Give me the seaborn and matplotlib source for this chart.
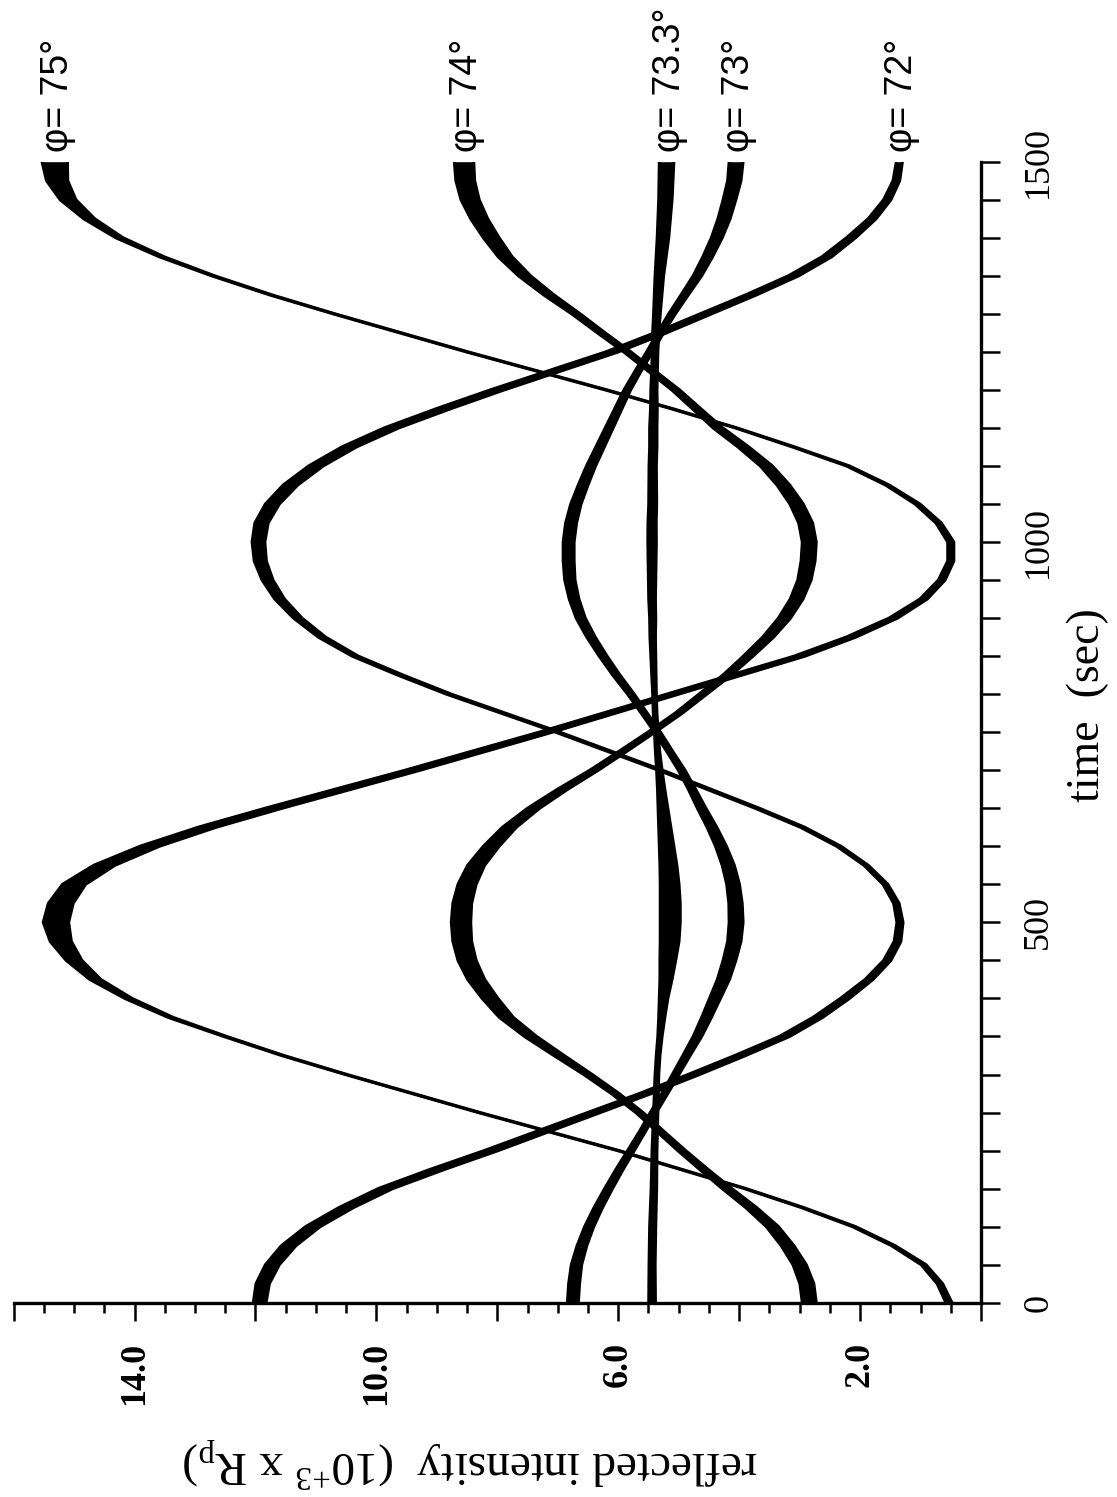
import matplotlib
matplotlib.use("Agg")
import numpy as np
import matplotlib.pyplot as plt
import seaborn as sns
from matplotlib.ticker import MultipleLocator

# Sampling times (s)
time_s = [0, 25, 50, 75, 100, 125, 150, 175, 200, 225, 250, 275, 300, 325, 350,
          375, 400, 425, 450, 475, 500, 525, 550, 575, 600, 625, 650, 675, 700,
          725, 750, 775, 800, 825, 850, 875, 900, 925, 950, 975, 1000, 1025,
          1050, 1075, 1100, 1125, 1150, 1175, 1200, 1225, 1250, 1275, 1300,
          1325, 1350, 1375, 1400, 1425, 1450, 1475, 1500]

# Reflected intensity (10^3 x Rp): centre of each trace and width of its band
phi75_mid = [0.53, 0.68, 0.95, 1.45, 2.1, 2.95, 3.9, 4.95, 6.0, 7.15, 8.3, 9.4,
             10.5, 11.55, 12.5, 13.4, 14.1, 14.65, 15.0, 15.22, 15.3,
             15.22, 15.0, 14.5, 13.75, 12.8, 11.7, 10.55, 9.4, 8.3, 7.2, 6.15,
             5.1, 4.05, 3.0, 2.15, 1.45, 0.95, 0.65, 0.5, 0.5,
             0.7, 1.05, 1.55, 2.2, 3.1, 4.05, 5.1, 6.2, 7.35, 8.5, 9.6, 10.7,
             11.75, 12.7, 13.55, 14.25, 14.75, 15.1, 15.28, 15.32]
phi75_band = [0.10, 0.09, 0.08, 0.06, 0.05, 0.04, 0.03, 0.03, 0.03, 0.03, 0.03,
              0.03, 0.03, 0.04, 0.05, 0.08, 0.12, 0.18, 0.26, 0.35, 0.42,
              0.41, 0.38, 0.35, 0.32, 0.30, 0.28, 0.27, 0.25, 0.24, 0.22, 0.21,
              0.20, 0.19, 0.18, 0.16, 0.14, 0.12, 0.11, 0.10, 0.10,
              0.09, 0.08, 0.06, 0.05, 0.04, 0.03, 0.03, 0.03, 0.03, 0.03, 0.03,
              0.03, 0.04, 0.05, 0.08, 0.12, 0.18, 0.26, 0.35, 0.42]

phi74_mid = [2.84, 2.88, 3.0, 3.2, 3.45, 3.8, 4.2, 4.58, 4.95, 5.3, 5.65, 6.05,
             6.5, 6.98, 7.45, 7.85, 8.12, 8.35, 8.5, 8.58, 8.6,
             8.58, 8.5, 8.35, 8.1, 7.8, 7.4, 6.92, 6.4, 5.92, 5.45, 5.0, 4.6,
             4.2, 3.85, 3.52, 3.25, 3.05, 2.92, 2.86, 2.84,
             2.9, 3.05, 3.27, 3.55, 3.93, 4.35, 4.7, 5.05, 5.45, 5.85, 6.28,
             6.7, 7.15, 7.55, 7.87, 8.1, 8.3, 8.45, 8.53, 8.55]
phi74_band = [0.23, 0.23, 0.22, 0.21, 0.20, 0.18, 0.16, 0.14, 0.13, 0.12, 0.12,
              0.13, 0.14, 0.17, 0.20, 0.23, 0.26, 0.28, 0.30, 0.31, 0.32,
              0.31, 0.30, 0.28, 0.26, 0.23, 0.20, 0.17, 0.14, 0.13, 0.12, 0.12,
              0.13, 0.14, 0.16, 0.18, 0.20, 0.21, 0.22, 0.23, 0.23,
              0.23, 0.22, 0.21, 0.20, 0.18, 0.16, 0.14, 0.13, 0.12, 0.12, 0.13,
              0.14, 0.17, 0.20, 0.23, 0.26, 0.28, 0.30, 0.31, 0.32]

phi733_mid = [5.44, 5.44, 5.44, 5.435, 5.43, 5.42, 5.41, 5.405, 5.40, 5.39,
              5.38, 5.37, 5.36, 5.34, 5.31, 5.28, 5.25, 5.21, 5.18, 5.15, 5.14,
              5.14, 5.15, 5.17, 5.20, 5.23, 5.26, 5.29, 5.32, 5.35, 5.37, 5.39,
              5.40, 5.41, 5.42, 5.43, 5.43, 5.44, 5.44, 5.44, 5.44,
              5.44, 5.43, 5.43, 5.43, 5.42, 5.42, 5.41, 5.41, 5.40, 5.39, 5.38,
              5.36, 5.34, 5.32, 5.29, 5.26, 5.24, 5.22, 5.21, 5.20]
phi733_band = [0.11, 0.105, 0.10, 0.10, 0.10, 0.095, 0.09, 0.085, 0.08, 0.075,
               0.07, 0.065, 0.06, 0.06, 0.07, 0.10, 0.14, 0.20, 0.26, 0.31, 0.33,
               0.33, 0.31, 0.28, 0.24, 0.20, 0.16, 0.12, 0.09, 0.07, 0.06, 0.06,
               0.06, 0.07, 0.08, 0.09, 0.10, 0.11, 0.12, 0.13, 0.14,
               0.135, 0.13, 0.125, 0.12, 0.12, 0.12, 0.11, 0.10, 0.095, 0.09,
               0.10, 0.11, 0.125, 0.14, 0.165, 0.19, 0.205, 0.22, 0.23, 0.24]

phi73_mid = [6.75, 6.73, 6.69, 6.6, 6.48, 6.33, 6.16, 5.98, 5.79, 5.6, 5.42,
             5.23, 5.05, 4.87, 4.69, 4.54, 4.4, 4.26, 4.16, 4.08, 4.05,
             4.06, 4.1, 4.18, 4.3, 4.45, 4.62, 4.78, 4.95, 5.15, 5.35, 5.57,
             5.79, 6.03, 6.25, 6.45, 6.62, 6.73, 6.8, 6.82, 6.82,
             6.78, 6.7, 6.58, 6.45, 6.3, 6.15, 6.0, 5.85, 5.67, 5.48, 5.3,
             5.11, 4.9, 4.69, 4.52, 4.37, 4.25, 4.16, 4.08, 4.05]
phi73_band = [0.18, 0.18, 0.17, 0.16, 0.15, 0.14, 0.13, 0.12, 0.11, 0.10, 0.10,
              0.10, 0.11, 0.12, 0.14, 0.16, 0.18, 0.20, 0.21, 0.22, 0.23,
              0.22, 0.21, 0.20, 0.18, 0.16, 0.14, 0.12, 0.11, 0.10, 0.10, 0.10,
              0.11, 0.12, 0.13, 0.14, 0.15, 0.16, 0.17, 0.18, 0.18,
              0.18, 0.17, 0.16, 0.15, 0.14, 0.13, 0.12, 0.11, 0.10, 0.10, 0.10,
              0.11, 0.12, 0.14, 0.16, 0.18, 0.20, 0.21, 0.22, 0.23]

phi72_mid = [11.93, 11.88, 11.72, 11.45, 11.05, 10.5, 9.85, 9.0, 8.1, 7.25, 6.4,
             5.55, 4.75, 3.98, 3.25, 2.7, 2.25, 1.85, 1.55, 1.38, 1.34,
             1.4, 1.58, 1.9, 2.35, 2.95, 3.7, 4.5, 5.3, 6.15, 7.0, 7.9, 8.8,
             9.6, 10.35, 10.9, 11.3, 11.6, 11.8, 11.92, 11.95,
             11.9, 11.72, 11.42, 11.0, 10.45, 9.75, 8.9, 8.0, 7.05, 6.1, 5.3,
             4.55, 3.8, 3.1, 2.55, 2.15, 1.8, 1.55, 1.4, 1.35]
phi72_band = [0.21, 0.22, 0.23, 0.24, 0.24, 0.24, 0.24, 0.24, 0.23, 0.22, 0.21,
              0.20, 0.19, 0.18, 0.17, 0.16, 0.15, 0.13, 0.12, 0.11, 0.10,
              0.09, 0.08, 0.07, 0.07, 0.07, 0.07, 0.07, 0.07, 0.07, 0.07, 0.07,
              0.08, 0.09, 0.10, 0.12, 0.14, 0.16, 0.18, 0.20, 0.21,
              0.22, 0.23, 0.24, 0.24, 0.24, 0.24, 0.24, 0.23, 0.22, 0.21, 0.20,
              0.19, 0.18, 0.17, 0.16, 0.15, 0.13, 0.12, 0.11, 0.10]

curve_labels = ["\u03c6= 75\u00b0", "\u03c6= 74\u00b0", "\u03c6= 73.3\u00b0",
                "\u03c6= 73\u00b0", "\u03c6= 72\u00b0"]
curves = [(phi75_mid, phi75_band), (phi74_mid, phi74_band),
          (phi733_mid, phi733_band), (phi73_mid, phi73_band),
          (phi72_mid, phi72_band)]

intensity_ticks = [0, 2, 4, 6, 8, 10, 12, 14, 16]
intensity_labels = ["", "2.0", "", "6.0", "", "10.0", "", "14.0", ""]
time_ticks = [0, 500, 1000, 1500]
time_labels = ["0", "500", "1000", "1500"]

sns.set_theme(style="ticks", rc={
    "axes.edgecolor": "black", "xtick.color": "black", "ytick.color": "black",
    "text.color": "black", "axes.labelcolor": "black",
})
plt.rcParams["font.family"] = ["Liberation Serif", "DejaVu Serif"]
plt.rcParams["mathtext.fontset"] = "custom"
plt.rcParams["mathtext.rm"] = "Liberation Serif"
plt.rcParams["mathtext.it"] = "Liberation Serif:italic"
plt.rcParams["mathtext.bf"] = "Liberation Serif:bold"

W, H = 1117, 1497
fig = plt.figure(figsize=(W / 100, H / 100), dpi=100)
fig.patch.set_facecolor("white")
ax = fig.add_axes([13.6 / W, (H - 1302.7) / H, (981 - 13.6) / W, (1302.7 - 161.7) / H])
ax.set_facecolor("white")

PEN = 2.2
t = np.asarray(time_s, dtype=float)
for mid, band in curves:
    mid = np.asarray(mid, dtype=float)
    band = np.asarray(band, dtype=float)
    lo, hi = mid - band / 2, mid + band / 2
    ax.fill_betweenx(t, lo, hi, color="black", lw=0)
    for edge in (lo, hi):
        sns.lineplot(x=edge, y=t, orient="y", sort=False, estimator=None,
                     color="black", lw=PEN, ax=ax, legend=False)

ax.set_xlim(16, 0)
ax.set_ylim(0, 1500)
ax.set_xlabel("")
ax.set_ylabel("")

sns.despine(ax=ax, left=True, top=True, right=False, bottom=False)
for side in ("bottom", "right"):
    ax.spines[side].set_linewidth(2.4)

ax.yaxis.tick_right()
ax.set_xticks(intensity_ticks, labels=intensity_labels, fontweight="bold",
              rotation=90, fontsize=26)
ax.xaxis.set_minor_locator(MultipleLocator(0.5))
ax.set_yticks(time_ticks, labels=time_labels, rotation=90, va="center",
              fontsize=26)
ax.yaxis.set_minor_locator(MultipleLocator(50))

ax.tick_params(axis="x", which="major", direction="out", length=13, width=1.8,
               pad=15, bottom=True, top=False)
ax.tick_params(axis="x", which="minor", direction="out", length=7, width=1.8,
               bottom=True, top=False)
ax.tick_params(axis="y", which="both", direction="out", length=13.7, width=1.8,
               right=True, left=False, labelright=True, labelleft=False)
ax.tick_params(axis="y", which="major", pad=16)

# Curve labels above the end of each trace
for label, (mid, band) in zip(curve_labels, curves):
    ax.text(mid[-1] - 0.05, 1513, label, rotation=90, ha="center", va="bottom",
            fontsize=27, family=["Liberation Sans", "DejaVu Sans"], clip_on=False)

fig.text(1088 / W, 1 - 705 / H, "time  (sec)", rotation=90,
         ha="center", va="center", fontsize=33)
fig.text(470 / W, 1 - 1462 / H,
         r"reflected intensity  (10$^{+3}$ x R$_{\rm p}$)",
         rotation=180, ha="center", va="center", fontsize=34)

fig.savefig("out.png", dpi=100, facecolor="white")
